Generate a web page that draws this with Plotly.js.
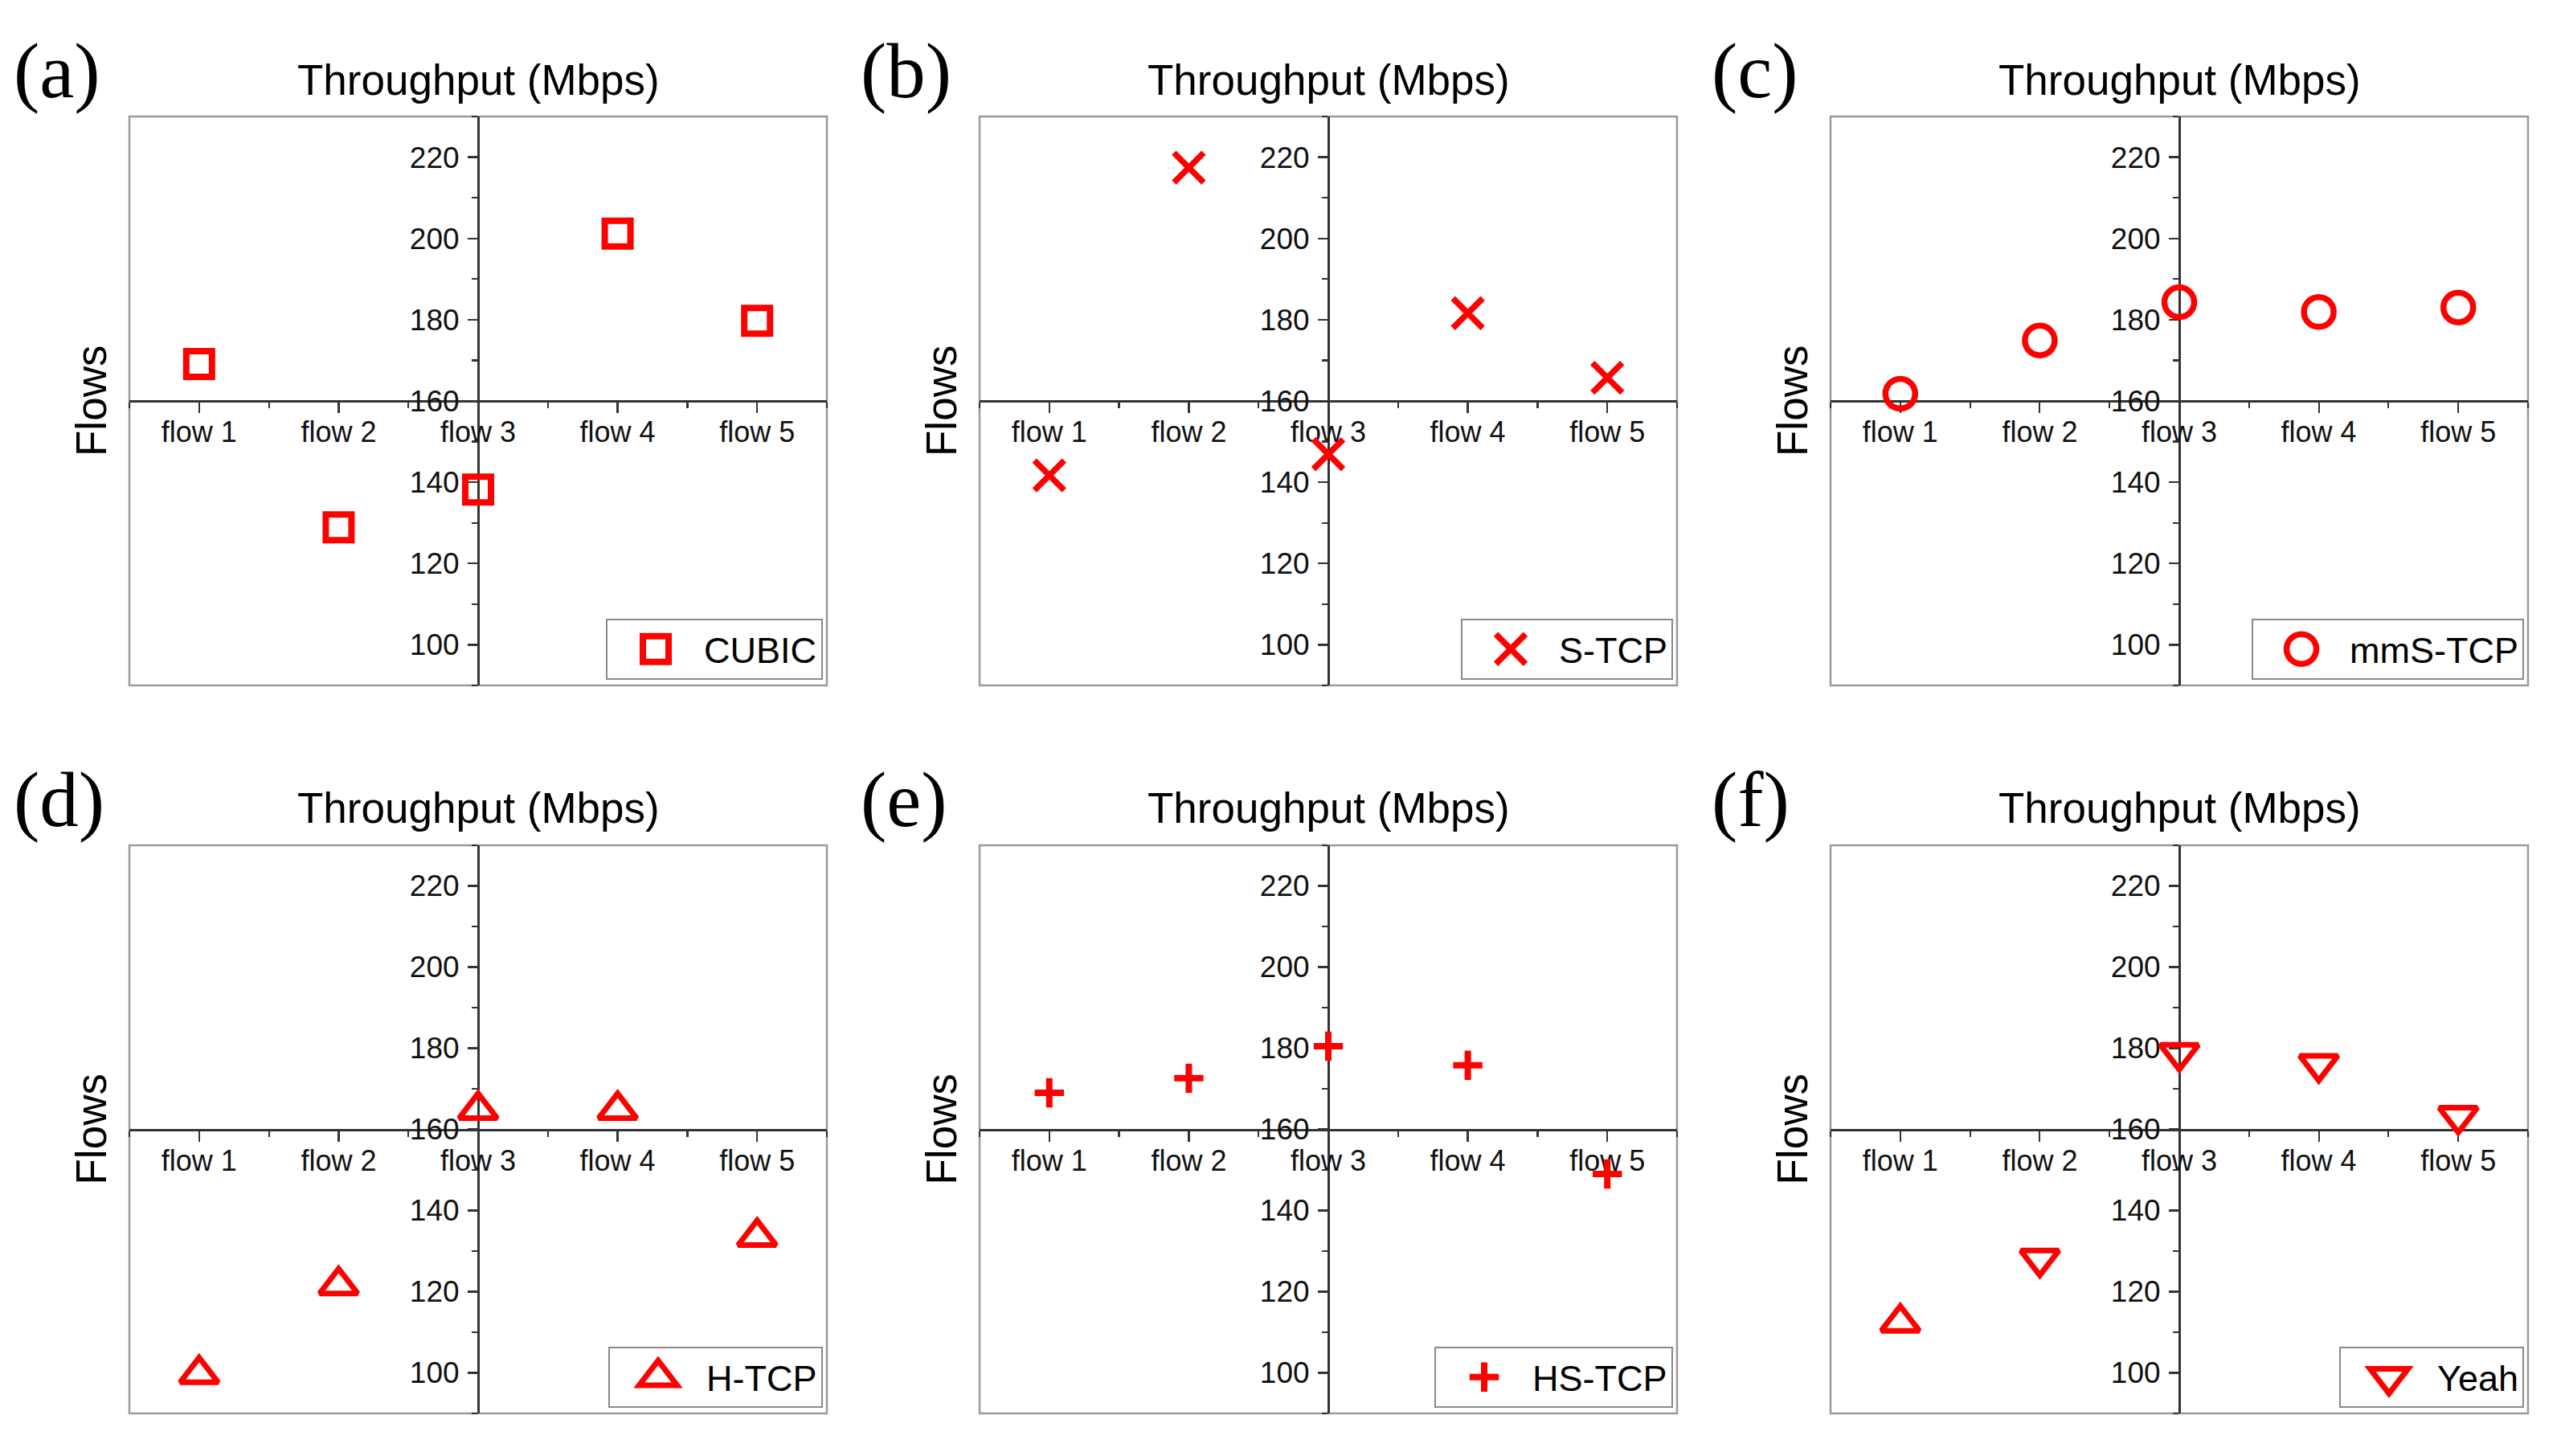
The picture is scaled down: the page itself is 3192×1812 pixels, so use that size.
<!DOCTYPE html>
<html>
<head>
<meta charset="utf-8">
<script src="https://cdn.plot.ly/plotly-3.0.1.min.js"></script>
<style>
html,body{margin:0;padding:0;background:#fff;}
#chart{width:3192px;height:1812px;}
</style>
</head>
<body>
<div id="chart"></div>
<script>
// ---------------- data ----------------
const flows = ['flow 1', 'flow 2', 'flow 3', 'flow 4', 'flow 5'];
const cubic  = [169.1, 128.9, 138.2, 201.2, 179.7];
const stcp   = [141.7, 217.4, 146.9, 181.6, 165.7];
const mmstcp = [161.8, 174.9, 184.3, 181.9, 183.0];
const htcp   = [99.7, 121.6, 164.8, 164.8, 133.5];
const hstcp  = [169.0, 172.6, 180.5, 175.8, 149.0];
const yeah   = [112.4, 128.1, 178.8, 176.1, 163.3];
const seriesNames = ['CUBIC', 'S-TCP', 'mmS-TCP', 'H-TCP', 'HS-TCP', 'Yeah'];
const panelLabels = ['(a)', '(b)', '(c)', '(d)', '(e)', '(f)'];
const xTitleText = 'Throughput (Mbps)';
const yTitleText = 'Flows';
const yRange = [90, 230];

// ---------------- layout / style ----------------
const W = 3192, H = 1812;
const seriesValues = [cubic, stcp, mmstcp, htcp, hstcp, yeah];
const symbols = ['square-open', 'x-thin-open', 'circle-open', 'triangle-up-open', 'cross-thin-open', 'triangle-down-open'];
const sizes = [32, 37, 37, 41, 26, 41];
const lineWidths = [8, 7.5, 7.5, 7, 8, 7];
const cols = [[161, 1029], [1219, 2087], [2278, 3146]];
const rows = [[145, 853], [1052, 1759]];
const FONT = 'Liberation Sans, Arial, sans-serif';
const RED = '#ff0000';
const AXC = '#333333';

const traces = [];
const layout = {
  width: W, height: H,
  margin: {l: 0, r: 0, t: 0, b: 0},
  paper_bgcolor: '#ffffff',
  plot_bgcolor: 'rgba(0,0,0,0)',
  font: {family: FONT, color: '#000'},
  shapes: [],
  annotations: []
};

for (let i = 0; i < 6; i++) {
  const col = cols[i % 3], row = rows[Math.floor(i / 3)];
  const xd = [col[0] / W, col[1] / W];
  const yd = [1 - row[1] / H, 1 - row[0] / H];
  const xMid = (xd[0] + xd[1]) / 2;
  const yMid = yd[0] + (yd[1] - yd[0]) * (160 - yRange[0]) / (yRange[1] - yRange[0]);
  const sfx = i === 0 ? '' : String(i + 1);
  const legendId = 'legend' + sfx;

  let sym = symbols[i];
  if (i === 5) sym = seriesValues[i].map((v, k) => k === 0 ? 'triangle-up-open' : 'triangle-down-open');

  traces.push({
    type: 'scatter', mode: 'markers',
    x: flows.map((f, k) => k),
    y: seriesValues[i],
    name: seriesNames[i],
    xaxis: 'x' + sfx, yaxis: 'y' + sfx,
    legend: legendId,
    showlegend: true,
    marker: {symbol: sym, size: sizes[i], color: RED, line: {color: RED, width: lineWidths[i]}},
    cliponaxis: false
  });

  layout['xaxis' + sfx] = {
    domain: xd, range: [-0.5, 4.5], anchor: 'free', position: yMid,
    tickmode: 'array', tickvals: flows.map((f, k) => k), ticktext: flows,
    ticks: 'outside', ticklen: 13, tickwidth: 2.2, tickcolor: AXC,
    ticklabelstandoff: -7,
    showline: true, linecolor: AXC, linewidth: 3,
    showgrid: false, zeroline: false, layer: 'below traces',
    tickfont: {family: FONT, size: 36, color: '#111'},
    minor: {ticks: 'outside', ticklen: 7, tickwidth: 2.2, tickcolor: AXC, tickmode: 'linear', tick0: -0.5, dtick: 1, showgrid: false},
    fixedrange: true
  };
  layout['yaxis' + sfx] = {
    domain: yd, range: yRange, anchor: 'free', position: xMid,
    tickmode: 'linear', tick0: 0, dtick: 20,
    ticks: 'outside', ticklen: 12, tickwidth: 2.2, tickcolor: AXC,
    ticklabelstandoff: 3,
    showline: true, linecolor: AXC, linewidth: 3,
    showgrid: false, zeroline: false, layer: 'below traces',
    tickfont: {family: FONT, size: 37, color: '#111'},
    minor: {ticks: 'outside', ticklen: 7, tickwidth: 2.2, tickcolor: AXC, tickmode: 'linear', tick0: 0, dtick: 10, showgrid: false},
    fixedrange: true
  };

  layout[legendId] = {
    x: (col[1] - 5) / W, xanchor: 'right',
    y: 1 - (row[1] - 7) / H, yanchor: 'bottom',
    bgcolor: '#ffffff', bordercolor: '#8a8a8a', borderwidth: 2,
    font: {family: FONT, size: 45, color: '#000'},
    itemwidth: 110, tracegroupgap: 0
  };

  layout.shapes.push({
    type: 'rect', xref: 'paper', yref: 'paper',
    x0: xd[0], x1: xd[1], y0: yd[0], y1: yd[1],
    line: {color: '#9a9a9a', width: 2.5}, layer: 'below'
  });

  const labelX = [15, 1069, 2128][i % 3];
  const rowOff = row[0] - 145;
  layout.annotations.push({
    xref: 'paper', yref: 'paper', x: labelX / W, y: 1 - (88 + rowOff) / H,
    xanchor: 'left', yanchor: 'middle', showarrow: false,
    text: panelLabels[i], font: {family: 'Liberation Serif, Times New Roman, serif', size: 97, color: '#000'}
  });
  layout.annotations.push({
    xref: 'paper', yref: 'paper', x: xMid, y: 1 - (99 + rowOff) / H,
    xanchor: 'center', yanchor: 'middle', showarrow: false,
    text: xTitleText, font: {family: FONT, size: 53, color: '#000'}
  });
  layout.annotations.push({
    xref: 'paper', yref: 'paper', x: (col[0] - 48) / W, y: (yd[0] + yd[1]) / 2,
    xanchor: 'center', yanchor: 'middle', showarrow: false, textangle: -90,
    text: yTitleText, font: {family: FONT, size: 53, color: '#000'}
  });
}

const el = document.getElementById('chart');
Plotly.newPlot(el, traces, layout, {staticPlot: true, displayModeBar: false}).then(() => {
  // enlarge legend symbols to the size of the plotted markers
  for (let i = 0; i < 6; i++) {
    const legendId = 'legend' + (i === 0 ? '' : String(i + 1));
    const k = sizes[i] / 16;
    el.querySelectorAll('g.' + legendId + ' path.scatterpts').forEach(p => {
      const t = p.getAttribute('transform') || '';
      p.setAttribute('transform', t + (i === 5 ? ` scale(${k},${-k})` : ` scale(${k})`));
      p.style.strokeWidth = (lineWidths[i] / k) + 'px';
    });
  }
});
</script>
</body>
</html>
